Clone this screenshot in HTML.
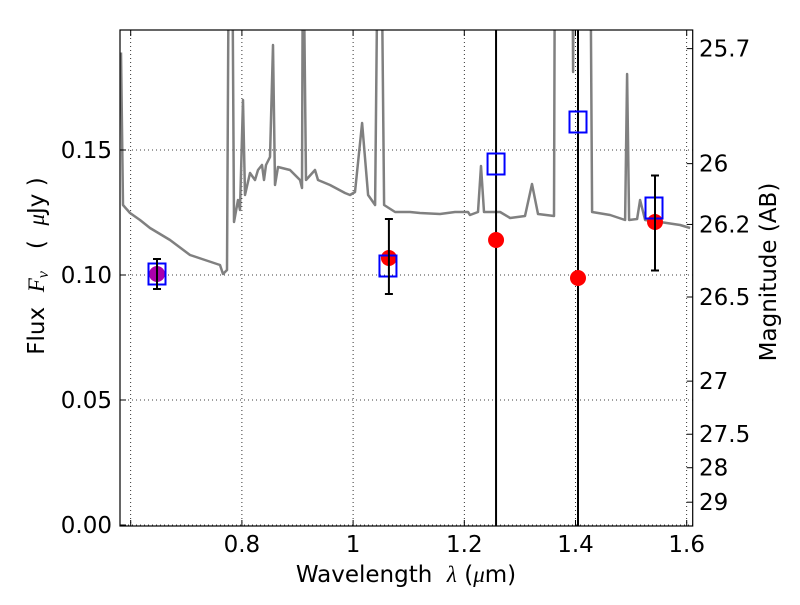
<!DOCTYPE html>
<html><head><meta charset="utf-8"><style>
html,body{margin:0;padding:0;background:#fff;}
svg text{font-family:"DejaVu Sans","Liberation Sans",sans-serif;white-space:pre;}
</style></head><body>
<svg id="chart" width="800" height="600" xmlns="http://www.w3.org/2000/svg">
<rect x="0" y="0" width="800" height="600" fill="#fff"/>
<defs><clipPath id="plotclip"><rect x="120" y="30" width="572.7" height="496"/></clipPath></defs>
<g id="grid"></g>
<g id="series" clip-path="url(#plotclip)"></g>
<rect x="120" y="30" width="572.7" height="496" fill="none" stroke="#000" stroke-width="1.2"/>
<g id="axes"></g>
<text x="406" y="582" font-size="23" text-anchor="middle">Wavelength  <tspan font-family="Liberation Serif" font-style="italic">λ</tspan> (<tspan font-family="Liberation Serif" font-style="italic">μ</tspan>m)</text>
<text transform="translate(44,266) rotate(-90)" font-size="23" text-anchor="middle">Flux  <tspan font-family="Liberation Serif" font-style="italic">F<tspan font-size="16" dy="4">ν</tspan></tspan><tspan dy="-4">   (  </tspan><tspan font-family="Liberation Serif" font-style="italic">μ</tspan>Jy )</text>
<text transform="translate(776,272) rotate(-90)" font-size="23" text-anchor="middle">Magnitude (AB)</text>
</svg>
<script>
const specWl=[0.5826,0.5862,0.5987,0.6167,0.6347,0.6707,0.7066,0.7336,0.7606,0.7660,0.7732,0.7768,0.7822,0.7858,0.7930,0.7966,0.8020,0.8056,0.8146,0.8236,0.8290,0.8362,0.8398,0.8434,0.8506,0.8560,0.8596,0.8650,0.8866,0.9045,0.9081,0.9099,0.9153,0.9315,0.9369,0.9585,0.9855,0.9945,1.0035,1.0161,1.0269,1.0395,1.0449,1.0503,1.0557,1.0755,1.1024,1.1203,1.1563,1.1833,1.2067,1.2103,1.2247,1.2301,1.2355,1.2643,1.2823,1.3092,1.3218,1.3326,1.3614,1.3632,1.3938,1.3956,1.3974,1.4262,1.4298,1.4622,1.4892,1.4928,1.4964,1.5108,1.5162,1.5252,1.5522,1.5882,1.6062];
const specFlux=[0.189,0.128,0.1248,0.122,0.1188,0.114,0.108,0.106,0.104,0.1004,0.102,0.25,0.25,0.1212,0.13,0.126,0.17,0.132,0.1408,0.138,0.142,0.144,0.138,0.144,0.1472,0.192,0.136,0.1432,0.142,0.138,0.1348,0.25,0.138,0.142,0.138,0.136,0.1328,0.132,0.1332,0.1608,0.132,0.128,0.25,0.25,0.128,0.1252,0.1252,0.1248,0.1244,0.1252,0.1252,0.124,0.1252,0.1436,0.1252,0.1252,0.1228,0.1236,0.1364,0.1244,0.1236,0.25,0.25,0.1812,0.25,0.25,0.1252,0.124,0.122,0.1804,0.122,0.1224,0.13,0.122,0.1212,0.12,0.1188];
const obsWl=[1.0644,1.2571,1.4045,1.5430];
const obsFlux=[0.1068,0.114,0.0988,0.1212];
const magWl=[0.6473];
const magFlux=[0.1004];
const modWl=[0.6473,1.0627,1.2571,1.4045,1.5412];
const modFlux=[0.1004,0.1036,0.1444,0.1612,0.1268];
const errWl=[0.6473,1.0644,1.5430];
const errMid=[0.1004,0.1074,0.1208];
const errHalf=[0.006,0.015,0.019];
const vlineWl=[1.2571,1.4045];
const xTicks=[0.6,0.8,1.0,1.2,1.4,1.6];
const xTickLabels=["","0.8","1","1.2","1.4","1.6"];
const yTicks=[0,0.05,0.10,0.15];
const yTickLabels=["0.00","0.05","0.10","0.15"];
const magTicks=[25.7,26,26.2,26.5,27,27.5,28,29];
const magTickLabels=["25.7","26","26.2","26.5","27","27.5","28","29"];

const NS="http://www.w3.org/2000/svg";
function X(w){return 130.7+(w-0.6)*556;}
function Y(f){return 525-f*2500;}
function mk(tag,attrs,parent){const e=document.createElementNS(NS,tag);for(const k in attrs)e.setAttribute(k,attrs[k]);parent.appendChild(e);return e;}
const grid=document.getElementById('grid'),series=document.getElementById('series'),axes=document.getElementById('axes');

xTicks.forEach((t,i)=>{
 const g=mk('line',{x1:X(t),x2:X(t),y1:30,y2:526,stroke:'#000','stroke-width':0.8,'stroke-dasharray':'1,3'},grid);
 
 
 const tk=mk('path',{d:`M${X(t)},526v-6M${X(t)},30v6`,stroke:'#000','stroke-width':1},axes);
 
 
 const tx=mk('text',{x:X(t),y:552,'font-size':23,'text-anchor':'middle'},axes);tx.textContent=xTickLabels[i];
 
 
});
yTicks.forEach((t,i)=>{
 const g=mk('line',{x1:120,x2:692.7,y1:Y(t),y2:Y(t),stroke:'#000','stroke-width':0.8,'stroke-dasharray':'1,3'},grid);
 
 
 const tk=mk('path',{d:`M120,${Y(t)}h6`,stroke:'#000','stroke-width':1},axes);
 
 
 const tx=mk('text',{x:112,y:Y(t)+8,'font-size':23,'text-anchor':'end'},axes);tx.textContent=yTickLabels[i];
 
 
});
magTicks.forEach((m,i)=>{
 const f=Math.pow(10,(23.9-m)/2.5);const y=Y(f);
 const tk=mk('path',{d:`M692.7,${y}h-6`,stroke:'#000','stroke-width':1},axes);
 
 
 const tx=mk('text',{x:699,y:y+8,'font-size':23},axes);tx.textContent=magTickLabels[i];
 
 
});

let d='';specWl.forEach((w,i)=>{d+=(i?'L':'M')+X(w).toFixed(1)+','+Y(specFlux[i]).toFixed(1);});
const sp=mk('path',{d:d,fill:'none',stroke:'#808080','stroke-width':2.5,'stroke-linejoin':'round'},series);



vlineWl.forEach(w=>{
 const l=mk('line',{x1:X(w),x2:X(w),y1:30,y2:526,stroke:'#000','stroke-width':2},series);
 
 
});
obsWl.forEach((w,i)=>{
 const c=mk('circle',{cx:X(w),cy:Y(obsFlux[i]),r:8,fill:'#ff0000'},series);
 
 
});
magWl.forEach((w,i)=>{
 const c=mk('circle',{cx:X(w),cy:Y(magFlux[i]),r:8,fill:'#aa00aa'},series);
 
 
});
modWl.forEach((w,i)=>{
 const r=mk('rect',{x:X(w)-8.5,y:Y(modFlux[i])-10.5,width:17,height:21,fill:'none',stroke:'#0000ff','stroke-width':2},series);
 
 
});
errWl.forEach((w,i)=>{
 const x=X(w),y1=Y(errMid[i]-errHalf[i]),y2=Y(errMid[i]+errHalf[i]);
 const e=mk('path',{d:`M${x},${y1}V${y2}M${x-4},${y1}h8M${x-4},${y2}h8`,stroke:'#000','stroke-width':2,fill:'none'},series);
 
 
});
</script>
</body></html>
